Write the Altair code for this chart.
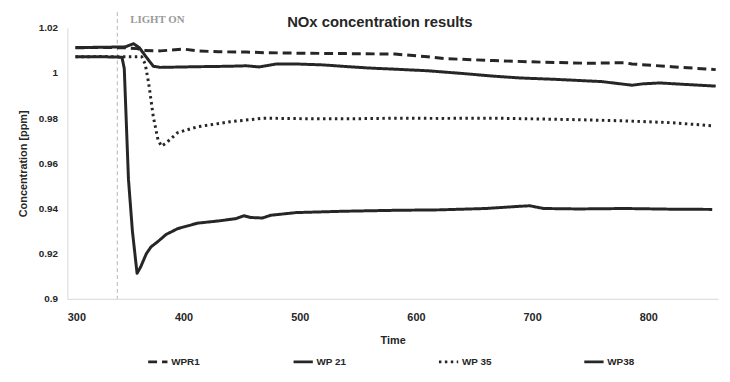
import altair as alt
import pandas as pd

# ---- data ----
series_order = ["WPR1", "WP 21", "WP 35", "WP38"]

wpr1_t = [307, 330, 350, 360, 366, 380, 400, 412, 430, 454, 470, 497, 540, 582, 610, 624, 667, 709, 750, 779, 786, 820, 858]
wpr1_v = [1.0112, 1.0113, 1.0112, 1.0108, 1.0100, 1.0098, 1.0106, 1.0098, 1.0094, 1.0093, 1.0090, 1.0088, 1.0086, 1.0084,
          1.0072, 1.0064, 1.0055, 1.0048, 1.0043, 1.0046, 1.0040, 1.0028, 1.0015]

wp21_t = [307, 330, 350, 357, 362, 368, 374, 380, 412, 440, 454, 465, 480, 497, 520, 539, 560, 582, 610, 640, 667, 690,
          720, 760, 786, 795, 810, 830, 858]
wp21_v = [1.0113, 1.0114, 1.0116, 1.0130, 1.0112, 1.0070, 1.0030, 1.0025, 1.0028, 1.0030, 1.0032, 1.0027, 1.0040, 1.0040,
          1.0036, 1.0029, 1.0022, 1.0017, 1.0010, 0.9998, 0.9986, 0.9978, 0.9972, 0.9962, 0.9946, 0.9952, 0.9956, 0.9950,
          0.9942]

wp35_t = [307, 330, 350, 364, 367, 370, 374, 378, 381, 385, 395, 412, 440, 469, 500, 540, 582, 620, 667, 700, 742, 780,
          820, 856]
wp35_v = [1.0072, 1.0073, 1.0072, 1.0072, 1.0040, 0.9955, 0.9806, 0.9705, 0.9676, 0.9690, 0.9736, 0.9762, 0.9784, 0.9800,
          0.9798, 0.9797, 0.9800, 0.9799, 0.9800, 0.9797, 0.9793, 0.9788, 0.9780, 0.9766]

wp38_t = [307, 330, 347, 349, 352.6, 356, 360, 363, 368, 372, 378, 385, 395, 412, 430, 445, 452, 458, 468, 475, 497, 539,
          582, 620, 660, 690, 698, 710, 740, 780, 820, 855]
wp38_v = [1.0072, 1.0072, 1.0070, 1.0020, 0.9530, 0.9300, 0.9113, 0.9140, 0.9200, 0.9230, 0.9254, 0.9285, 0.9311, 0.9335,
          0.9345, 0.9355, 0.9368, 0.9360, 0.9358, 0.9370, 0.9382, 0.9388, 0.9392, 0.9394, 0.9400, 0.9410, 0.9412, 0.9400,
          0.9398, 0.9400, 0.9397, 0.9396]

light_on_time = 343
x_ticks = [300, 400, 500, 600, 700, 800]
y_ticks = [0.9, 0.92, 0.94, 0.96, 0.98, 1.0, 1.02]
title_text = "NOx concentration results"

rows = []
for name, ts, vs in [("WPR1", wpr1_t, wpr1_v), ("WP 21", wp21_t, wp21_v),
                     ("WP 35", wp35_t, wp35_v), ("WP38", wp38_t, wp38_v)]:
    for t, v in zip(ts, vs):
        rows.append({"series": name, "time": t, "conc": v})
df = pd.DataFrame(rows)

FONT = "Liberation Sans"
INK = "#262626"

legend = alt.Legend(
    title=None, orient="none", legendX=80, legendY=326, direction="horizontal",
    columns=4, gridAlign="all", columnPadding=86, symbolType="stroke", symbolSize=380,
    symbolStrokeWidth=3, labelFont=FONT, labelFontSize=10, labelFontWeight="bold",
    labelColor=INK, labelOffset=2,
)

lines = alt.Chart(df).mark_line(strokeWidth=3, strokeJoin="round").encode(
    x=alt.X("time:Q", scale=alt.Scale(domain=[300, 860], nice=False, zero=False),
            axis=alt.Axis(values=x_ticks, title="Time", ticks=False, grid=False,
                          domainColor="#d8d8d8", labelPadding=13, titlePadding=12,
                          labelFont=FONT, labelFontSize=11, labelFontWeight="bold", labelColor=INK,
                          titleFont=FONT, titleFontSize=11, titleFontWeight="bold", titleColor=INK)),
    y=alt.Y("conc:Q", scale=alt.Scale(domain=[0.9, 1.02], nice=False, zero=False),
            axis=alt.Axis(values=y_ticks, format=".2~f", title="Concentration [ppm]", ticks=False,
                          grid=False, domainColor="#d8d8d8", labelPadding=10, titlePadding=10,
                          labelFont=FONT, labelFontSize=10, labelFontWeight="bold", labelColor=INK,
                          titleFont=FONT, titleFontSize=11, titleFontWeight="bold", titleColor=INK)),
    color=alt.Color("series:N", scale=alt.Scale(domain=series_order, range=[INK] * 4), legend=legend),
    strokeDash=alt.StrokeDash("series:N",
                              scale=alt.Scale(domain=series_order,
                                              range=[[9, 5], [1, 0], [2.5, 3.5], [1, 0]]),
                              legend=legend),
)

rule = alt.Chart(pd.DataFrame({"k": [0]})).mark_rule(color="#b5b5b5", strokeDash=[4, 3], strokeWidth=1).encode(
    x=alt.datum(light_on_time), y=alt.value(-16), y2=alt.value(274)
)

label = alt.Chart(pd.DataFrame({"k": [0]})).mark_text(
    text="LIGHT ON", align="left", baseline="middle", dx=13, font="Liberation Serif",
    fontSize=11, fontWeight="bold", color="#9a9a9a"
).encode(x=alt.datum(light_on_time), y=alt.value(-8))

title = alt.Chart(pd.DataFrame({"k": [0]})).mark_text(
    text=title_text, align="center", baseline="middle", font=FONT,
    fontSize=15, fontWeight="bold", color=INK
).encode(x=alt.value(316), y=alt.value(-6))

chart = alt.layer(rule, label, title, lines).properties(
    width=658, height=274,
    padding={"left": 60, "top": 18, "right": 4, "bottom": 80},
    autosize=alt.AutoSizeParams(type="none"),
).configure_view(stroke=None)

chart.save("out.html", embed_options={"renderer": "svg", "actions": False})
